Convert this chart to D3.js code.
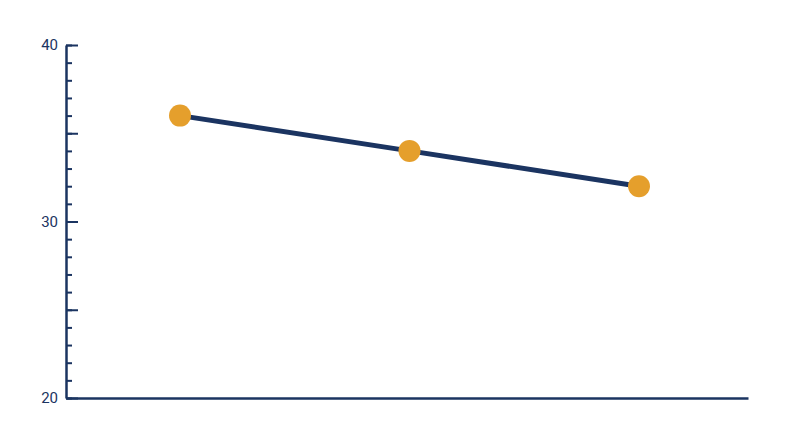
<!DOCTYPE html>
<html>
<head>
<meta charset="utf-8">
<script src="https://cdn.jsdelivr.net/npm/d3@7"></script>
<style>
  body { margin: 0; background: #fff; }
</style>
</head>
<body>
<svg id="chart"></svg>
<script>
// chart data
const categories = ["A", "B", "C"]
const values = [36, 34, 32]
const majorTicks = [20, 25, 30, 35, 40]
const labelTicks = [20, 30, 40]

const navy = "#1b3461"
const orange = "#e59f2c"

const size = { width: 800, height: 447 }
const margin = { top: 45, right: 52, bottom: 49, left: 66 }
const width = size.width - margin.left - margin.right
const height = size.height - margin.top - margin.bottom

const svg = d3.select("#chart")
  .attr("width", size.width)
  .attr("height", size.height)
  .append("g")
  .attr("transform", `translate(${margin.left}, ${margin.top})`)

const y = d3.scaleLinear().domain([20, 40]).range([height, 0])
const x = d3.scalePoint().domain(categories)
  .range([114, 573])

// minor ticks every 1
svg.append("g")
  .attr("class", "axis axis--minor")
  .call(d3.axisLeft(y).tickValues(d3.range(20, 41)).tickSize(-6).tickFormat(""))
  .call(g => g.select(".domain").remove())
  .call(g => g.selectAll("line").attr("stroke", navy).attr("stroke-width", 2))

// major ticks + labels
svg.append("g")
  .attr("class", "axis axis--y")
  .call(d3.axisLeft(y).tickValues(majorTicks).tickSize(-12).tickSizeOuter(0).tickPadding(8)
    .tickFormat(d => labelTicks.includes(d) ? d : ""))
  .call(g => g.select(".domain").attr("stroke", navy).attr("stroke-width", 2.5))
  .call(g => g.selectAll("line").attr("stroke", navy).attr("stroke-width", 2))
  .call(g => g.selectAll("text")
    .attr("fill", navy)
    .attr("font-family", "Roboto, sans-serif")
    .attr("font-size", 15))

// x axis baseline
svg.append("g")
  .attr("class", "axis axis--x")
  .attr("transform", `translate(0, ${height})`)
  .call(d3.axisBottom(d3.scaleLinear().range([0, width])).tickValues([]).tickSizeOuter(0))
  .call(g => g.select(".domain").attr("stroke", navy).attr("stroke-width", 2.5))

const line = d3.line()
  .x((d, i) => x(categories[i]))
  .y(d => y(d))

svg.append("path")
  .datum(values)
  .attr("fill", "none")
  .attr("stroke", navy)
  .attr("stroke-width", 5)
  .attr("d", line)

svg.selectAll(".dot")
  .data(values)
  .enter().append("circle")
  .attr("class", "dot")
  .attr("cx", (d, i) => x(categories[i]))
  .attr("cy", d => y(d))
  .attr("r", 11)
  .attr("fill", orange)
</script>
</body>
</html>
